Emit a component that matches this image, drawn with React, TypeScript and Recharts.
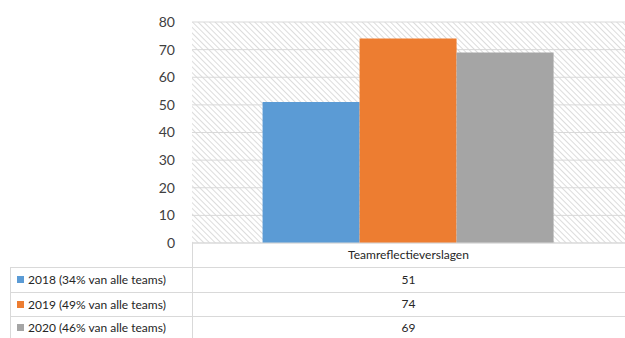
import { Bar, BarChart, CartesianGrid, XAxis, YAxis } from "recharts";

const categories = ["Teamreflectieverslagen"];
const seriesNames = [
  "2018 (34% van alle teams)",
  "2019 (49% van alle teams)",
  "2020 (46% van alle teams)",
];
const seriesKeys = ["y2018", "y2019", "y2020"];
const seriesValues = [51, 74, 69];
const seriesColors = ["#5b9bd5", "#ed7d31", "#a5a5a5"];
const yTicks = [0, 10, 20, 30, 40, 50, 60, 70, 80];

const data = categories.map((name) => {
  const row: Record<string, string | number> = { name };
  seriesKeys.forEach((k, i) => (row[k] = seriesValues[i]));
  return row;
});

// the chart fills the whole page, so drop the default body margin
if (typeof document !== "undefined") {
  document.body.style.margin = "0";
  document.body.style.overflow = "hidden";
}

const W = 625;
const H = 338;
const PLOT_LEFT = 192;
const PLOT_TOP = 22;
const PLOT_BOTTOM = 243;
const ROW_TOPS = [267, 292, 316];
const LINE = "#d9d9d9";
const FONT = "Lato, 'Open Sans', sans-serif";

export default function App() {
  return (
    <div style={{ position: "relative", width: W, height: H, background: "#fff", fontFamily: FONT, overflow: "hidden" }}>
      <BarChart
        width={W}
        height={H}
        data={data}
        margin={{ top: PLOT_TOP, right: 0, bottom: 0, left: PLOT_LEFT - 60 }}
        barCategoryGap="16.3%"
        barGap={0}
      >
        <defs>
          <pattern id="hatch" width="4" height="4" patternUnits="userSpaceOnUse" patternTransform="rotate(-45)">
            <rect width="4" height="4" fill="#ffffff" />
            <line x1="0" y1="0" x2="0" y2="4" stroke="#d4d4d4" strokeWidth="1.6" />
          </pattern>
        </defs>
        <CartesianGrid vertical={false} stroke={LINE} fill="url(#hatch)" fillOpacity={1} />
        <XAxis dataKey="name" axisLine={{ stroke: LINE }} tickLine={false} tick={false} height={H - PLOT_BOTTOM} />
        <YAxis
          width={60}
          domain={[0, 80]}
          ticks={yTicks}
          interval={0}
          axisLine={false}
          tickLine={false}
          tickMargin={11}
          tick={{ fill: "#404040", fontSize: 14, fontFamily: FONT }}
        />
        {seriesKeys.map((k, i) => (
          <Bar key={k} dataKey={k} name={seriesNames[i]} fill={seriesColors[i]} isAnimationActive={false} />
        ))}
      </BarChart>

      {/* data table under the plot */}
      <div style={{ position: "absolute", left: PLOT_LEFT, top: PLOT_BOTTOM, width: 1, height: H - PLOT_BOTTOM, background: LINE }} />
      <div style={{ position: "absolute", left: 10, top: ROW_TOPS[0], width: 1, height: H - ROW_TOPS[0], background: LINE }} />
      {ROW_TOPS.map((t) => (
        <div key={t} style={{ position: "absolute", left: 10, top: t, width: W - 10, height: 1, background: LINE }} />
      ))}
      <div
        style={{
          position: "absolute",
          left: PLOT_LEFT,
          width: W - PLOT_LEFT,
          top: PLOT_BOTTOM,
          height: ROW_TOPS[0] - PLOT_BOTTOM,
          lineHeight: `${ROW_TOPS[0] - PLOT_BOTTOM}px`,
          textAlign: "center",
          fontSize: 12,
          color: "#262626",
        }}
      >
        {categories[0]}
      </div>
      {seriesNames.map((name, i) => {
        const top = ROW_TOPS[i];
        const h = (ROW_TOPS[i + 1] ?? H + 1) - top;
        return (
          <div key={name}>
            <div
              style={{
                position: "absolute",
                left: 17,
                top,
                height: h,
                display: "flex",
                alignItems: "center",
                fontSize: 12,
                color: "#262626",
                whiteSpace: "nowrap",
              }}
            >
              <span style={{ display: "inline-block", width: 7, height: 7, background: seriesColors[i], marginRight: 4 }} />
              {name}
            </div>
            <div
              style={{
                position: "absolute",
                left: PLOT_LEFT,
                width: W - PLOT_LEFT,
                top,
                height: h,
                lineHeight: `${h}px`,
                textAlign: "center",
                fontSize: 12,
                color: "#262626",
              }}
            >
              {seriesValues[i]}
            </div>
          </div>
        );
      })}
    </div>
  );
}
